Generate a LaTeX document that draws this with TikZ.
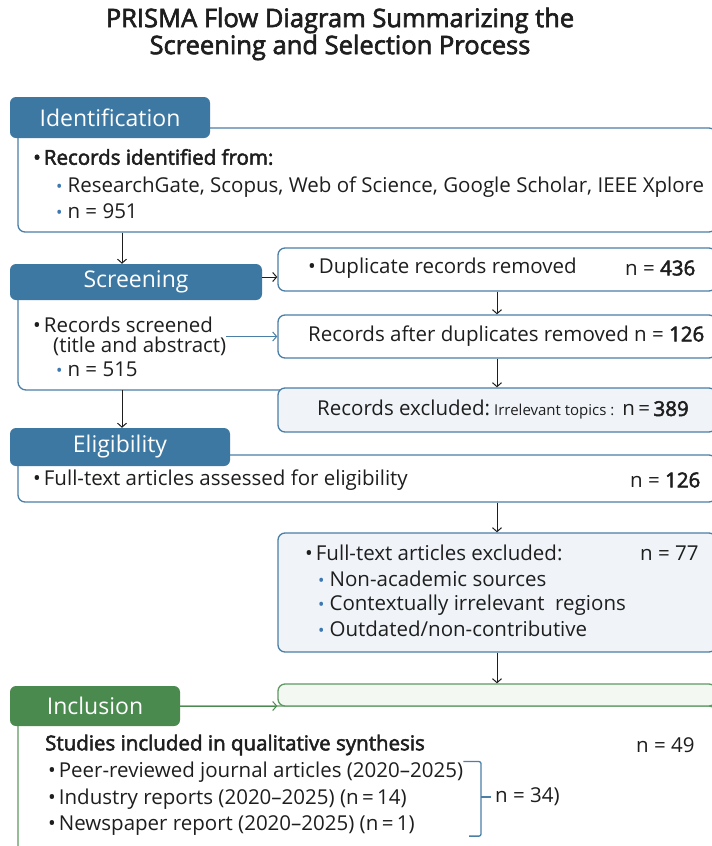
\documentclass[tikz,border=0pt]{standalone}
\usepackage{fontspec}
\setmainfont{Open Sans}
\newfontfamily\semi{Open Sans}[FakeBold=2.5]
\usetikzlibrary{arrows.meta}
\definecolor{ink}{HTML}{1E1E1E}
\definecolor{headblue}{HTML}{3C78A2}
\definecolor{lineblue}{HTML}{4A7FA6}
\definecolor{dotblue}{HTML}{3D78B0}
\definecolor{palefill}{HTML}{F0F4F8}
\definecolor{headgreen}{HTML}{4B8A4F}
\definecolor{linegreen}{HTML}{5E9A62}
\definecolor{greenfill}{HTML}{F3F8F2}
\newcommand{\mdot}{\textbullet\hspace{3pt}}
\newcommand{\sdot}{{\color{dotblue}\fontsize{17}{17}\selectfont\textbullet}\hspace{5pt}}
\newcommand{\num}[1]{{\semi #1}}

\begin{document}
\begin{tikzpicture}[font=\fontsize{20.5}{24}\selectfont, text=ink]
                \tikzset{x=1pt, y=-1pt, >={Straight Barb[length=4pt, width=9pt]}}
                \tikzstyle{head}=[rectangle, rounded corners=6pt, fill=headblue, text=white, font=\fontsize{23}{26}\selectfont, inner sep=0]
                \tikzstyle{panel}=[rectangle, rounded corners=7pt, draw=lineblue, line width=1.3pt, fill=white, inner sep=0]
                \tikzstyle{pale}=[panel, fill=palefill]
                \tikzstyle{item}=[anchor=west, inner sep=0]
                \tikzstyle{flow}=[->, draw=ink, line width=1pt]

                \useasboundingbox (0,0) rectangle (712,846);
                \clip (0,0) rectangle (712,846);
                \fill[white] (0,0) rectangle (712,846);

                \draw (340, 34)     node[font=\fontsize{25.5}{27}\selectfont\semi, align=center] (title)
                        {PRISMA Flow Diagram Summarizing the\\Screening and Selection Process};

                \draw (367, 180)    node[panel, minimum width=698, minimum height=104]  (ident)  {};
                \draw (110, 117.5)  node[head, minimum width=200, minimum height=41]    (identh) {Identification};
                \draw (33, 157)     node[item, font=\fontsize{20.5}{24}\selectfont\semi] (i1) {\mdot Records identified from:};
                \draw (56, 187)     node[item]  (i2)    {\sdot ResearchGate, Scopus, Web of Science, Google Scholar, IEEE Xplore};
                \draw (56, 211)     node[item]  (i3)    {\sdot n = 951};

                \draw[panel, fill=none, rounded corners=8pt] (18, 290) -- (18, 390) coordinate (sb) -- (282, 390);
                \draw (136, 282)    node[head, minimum width=252, minimum height=36]    (scr)    {Screening};
                \draw (497, 269.5)  node[panel, minimum width=438, minimum height=43]   (dup)    {};
                \draw (497, 336.5)  node[panel, minimum width=438, minimum height=43]   (after)  {};
                \draw (497, 410)    node[pale, minimum width=438, minimum height=44]    (excl)   {};
                \draw (308, 268)    node[item]  (d1)    {\mdot Duplicate records removed};
                \draw (625, 268)    node[item]  (d2)    {n = \num{436}};
                \draw (308, 336)    node[item]  (a1)    {Records after duplicates removed n = \num{126}};
                \draw (317, 410)    node[item]  (e1)    {Records excluded:\hspace{4pt}{\fontsize{15}{18}\selectfont Irrelevant topics :}\hspace{8pt}n\,=\,\num{389}};
                \draw (33, 325)     node[item]  (s1)    {\mdot Records screened};
                \draw (53, 346)     node[item]  (s2)    {(title and abstract)};
                \draw (56, 369)     node[item]  (s3)    {\sdot n = 515};

                \draw (367, 478.5)  node[panel, minimum width=698, minimum height=47]   (elig)   {};
                \draw (120, 447)    node[head, minimum width=220, minimum height=38]    (eligh)  {Eligibility};
                \draw (33, 480)     node[item]  (g1)    {\mdot Full-text articles assessed for eligibility};
                \draw (630, 480)    node[item]  (g2)    {n = \num{126}};

                \draw (497, 592.5)  node[pale, minimum width=438, minimum height=119]  (full)   {};
                \draw (305, 553)    node[item]  (f1)    {\mdot Full-text articles excluded:};
                \draw (640, 553)    node[item]  (f2)    {n = 77};
                \draw (318, 579)    node[item]  (f3)    {\sdot Non-academic sources};
                \draw (318, 605)    node[item]  (f4)    {\sdot Contextually irrelevant\ \ regions};
                \draw (318, 629)    node[item]  (f5)    {\sdot Outdated/non-contributive};

                \draw (367, 800)    node[panel, draw=linegreen, minimum width=698, minimum height=188] (incl) {};
                \draw (497, 695)    node[panel, draw=linegreen, fill=greenfill, minimum width=438, minimum height=22] (gbox) {};
                \draw (95, 706)     node[head, fill=headgreen, minimum width=170, minimum height=40] (inclh) {Inclusion};
                \draw (45, 745)     node[item, font=\fontsize{20.5}{24}\selectfont\semi] (n1) {Studies included in qualitative synthesis};
                \draw (636, 745)    node[item]  (n2)    {n = 49};
                \draw (48, 772)     node[item]  (n3)    {\mdot Peer-reviewed journal articles (2020--2025)};
                \draw (48, 799)     node[item]  (n4)    {\mdot Industry reports (2020--2025) (n\,=\,14)};
                \draw (48, 826)     node[item]  (n5)    {\mdot Newspaper report (2020--2025) (n\,=\,1)};
                \draw (495, 797)    node[item]  (n6)    {n = 34)};

                \coordinate (ax) at (122, 0);
                \coordinate (bx) at (481, 0);
                \draw [flow]        (ident.south -| ax) -- (scr.north -| ax);
                \draw [flow]        ([yshift=5]scr.east) -- ([yshift=5]scr.east -| dup.west);
                \draw [flow]        (dup.south) -- (after.north);
                \draw [flow, draw=lineblue] (s2.east |- after.west) -- (after.west);
                \draw [flow]        (after.south) -- (excl.north);
                \draw [flow]        (sb -| ax) -- (eligh.north -| ax);
                \draw [flow]        (elig.south -| full.north) -- (full.north);
                \draw [flow]        (full.south) -- (gbox.north);
                \draw [flow, draw=headgreen] (inclh.east) -- (inclh.east -| gbox.west);
                \draw [draw=lineblue, line width=1.3pt, rounded corners=2pt]
                                    (n3.north east) -- (n3.north east -| bx) -- (n5.south -| bx) -- ([xshift=-12]n5.south -| bx);
                \draw [draw=lineblue, line width=1.3pt] (n6.west -| bx) -- ([xshift=-4]n6.west);
\end{tikzpicture}
\end{document}
